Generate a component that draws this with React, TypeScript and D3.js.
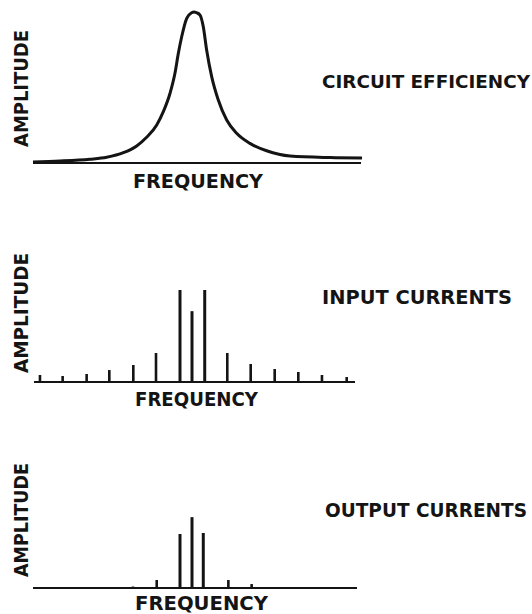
import React, { useEffect, useRef } from 'react';
import * as d3 from 'd3';

// resonance curve (frequency offset, relative amplitude)
const efficiencyFreq = [-13.25, -11, -8.5, -7.11, -5.72, -4.61, -3.78, -2.94, -2.39, -1.83, -1.42, -1.14, -0.86, -0.44, -0.03, 0.17, 0.39, 0.67, 0.94, 1.22, 1.64, 2.19, 2.89, 3.72, 4.83, 6.22, 8.17, 11.5, 14.17];
const efficiencyAmp = [0.7, 1.3, 2.5, 3.8, 6.8, 11.3, 17, 25.2, 34, 46.2, 59.4, 72.6, 83.6, 95.8, 99.5, 100, 99.5, 98, 90.3, 74.8, 57.2, 41.7, 28.5, 19.7, 13, 8.1, 4.6, 3.6, 3.3];

const inputFreq = [-12.67, -10.78, -8.78, -6.89, -4.89, -3, -1, 0, 1.06, 2.94, 4.89, 6.89, 8.86, 10.83, 12.89];
const inputAmp = [7.6, 6.5, 8.7, 13, 18.5, 31.5, 100, 77, 100, 31.5, 19.6, 14.1, 10.9, 7.6, 5.4];

const outputFreq = [-4.92, -2.94, -1, 0, 0.94, 3.03, 4.97];
const outputAmp = [1.6, 8.7, 58.7, 77, 59.8, 8.7, 4.3];

const panelTitles = ['CIRCUIT EFFICIENCY', 'INPUT CURRENTS', 'OUTPUT CURRENTS'];
const xTitle = 'FREQUENCY';
const yTitle = 'AMPLITUDE';

const ink = '#141414';

const App = () => {
  const ref = useRef(null);

  useEffect(() => {
    const svg = d3.select(ref.current);
    svg.selectAll('*').remove();

    const x = d3.scaleLinear().domain([-14, 14]).range([24, 360]);

    const panels = [
      { base: 163, top: 12, axis: [33, 361], title: [322, 88, 208], freq: [133, 188, 130], amp: [28, 88.5, 117] },
      { base: 382, top: 290, axis: [34, 355], title: [322, 304, 190], freq: [135, 406, 123], amp: [28, 313, 120] },
      { base: 588, top: 496, axis: [33, 357], title: [325, 517, 202], freq: [135, 610, 133], amp: [28, 520, 114] }
    ];

    const ys = panels.map(p => d3.scaleLinear().domain([0, 100]).range([p.base, p.top]));

    panels.forEach((p, i) => {
      const g = svg.append('g');
      g.append('line')
        .attr('x1', p.axis[0]).attr('x2', p.axis[1])
        .attr('y1', p.base).attr('y2', p.base)
        .attr('stroke', ink).attr('stroke-width', 1.8);

      g.append('text')
        .attr('x', p.freq[0]).attr('y', p.freq[1])
        .attr('textLength', p.freq[2]).attr('lengthAdjust', 'spacingAndGlyphs')
        .style('font-family', 'DejaVu Sans').style('font-weight', 'bold')
        .style('font-size', '19px').attr('fill', ink)
        .text(xTitle);

      g.append('text')
        .attr('transform', `translate(${p.amp[0]},${p.amp[1] + p.amp[2] / 2}) rotate(-90)`)
        .attr('textLength', p.amp[2]).attr('lengthAdjust', 'spacingAndGlyphs')
        .style('font-family', 'DejaVu Sans').style('font-weight', 'bold')
        .style('font-size', '20px').attr('fill', ink)
        .text(yTitle);

      g.append('text')
        .attr('x', p.title[0]).attr('y', p.title[1])
        .attr('textLength', p.title[2]).attr('lengthAdjust', 'spacingAndGlyphs')
        .style('font-family', 'DejaVu Sans').style('font-weight', 'bold')
        .style('font-size', i === 0 ? '17px' : '19px').attr('fill', ink)
        .text(panelTitles[i]);
    });

    // circuit efficiency curve
    const line = d3.line()
      .x(d => x(d[0]))
      .y(d => ys[0](d[1]))
      .curve(d3.curveMonotoneX);
    svg.append('path')
      .attr('d', line(efficiencyFreq.map((f, i) => [f, efficiencyAmp[i]])))
      .attr('fill', 'none').attr('stroke', ink).attr('stroke-width', 3)
      .attr('stroke-linejoin', 'round');

    // spectral lines
    const spikes = (freq, amp, y) => {
      svg.append('g').selectAll('line')
        .data(freq.map((f, i) => ({ f, a: amp[i] })))
        .enter()
        .append('line')
        .attr('x1', d => x(d.f)).attr('x2', d => x(d.f))
        .attr('y1', y(0)).attr('y2', d => y(d.a))
        .attr('stroke', ink)
        .attr('stroke-width', d => (d.a > 40 ? 3 : 2.6));
    };
    spikes(inputFreq, inputAmp, ys[1]);
    spikes(outputFreq, outputAmp, ys[2]);
  }, []);

  return (
    <div style={{ position: 'absolute', left: 0, top: 0, background: '#fff' }}>
      <svg ref={ref} width={532} height={614}></svg>
    </div>
  );
};

export default App;
